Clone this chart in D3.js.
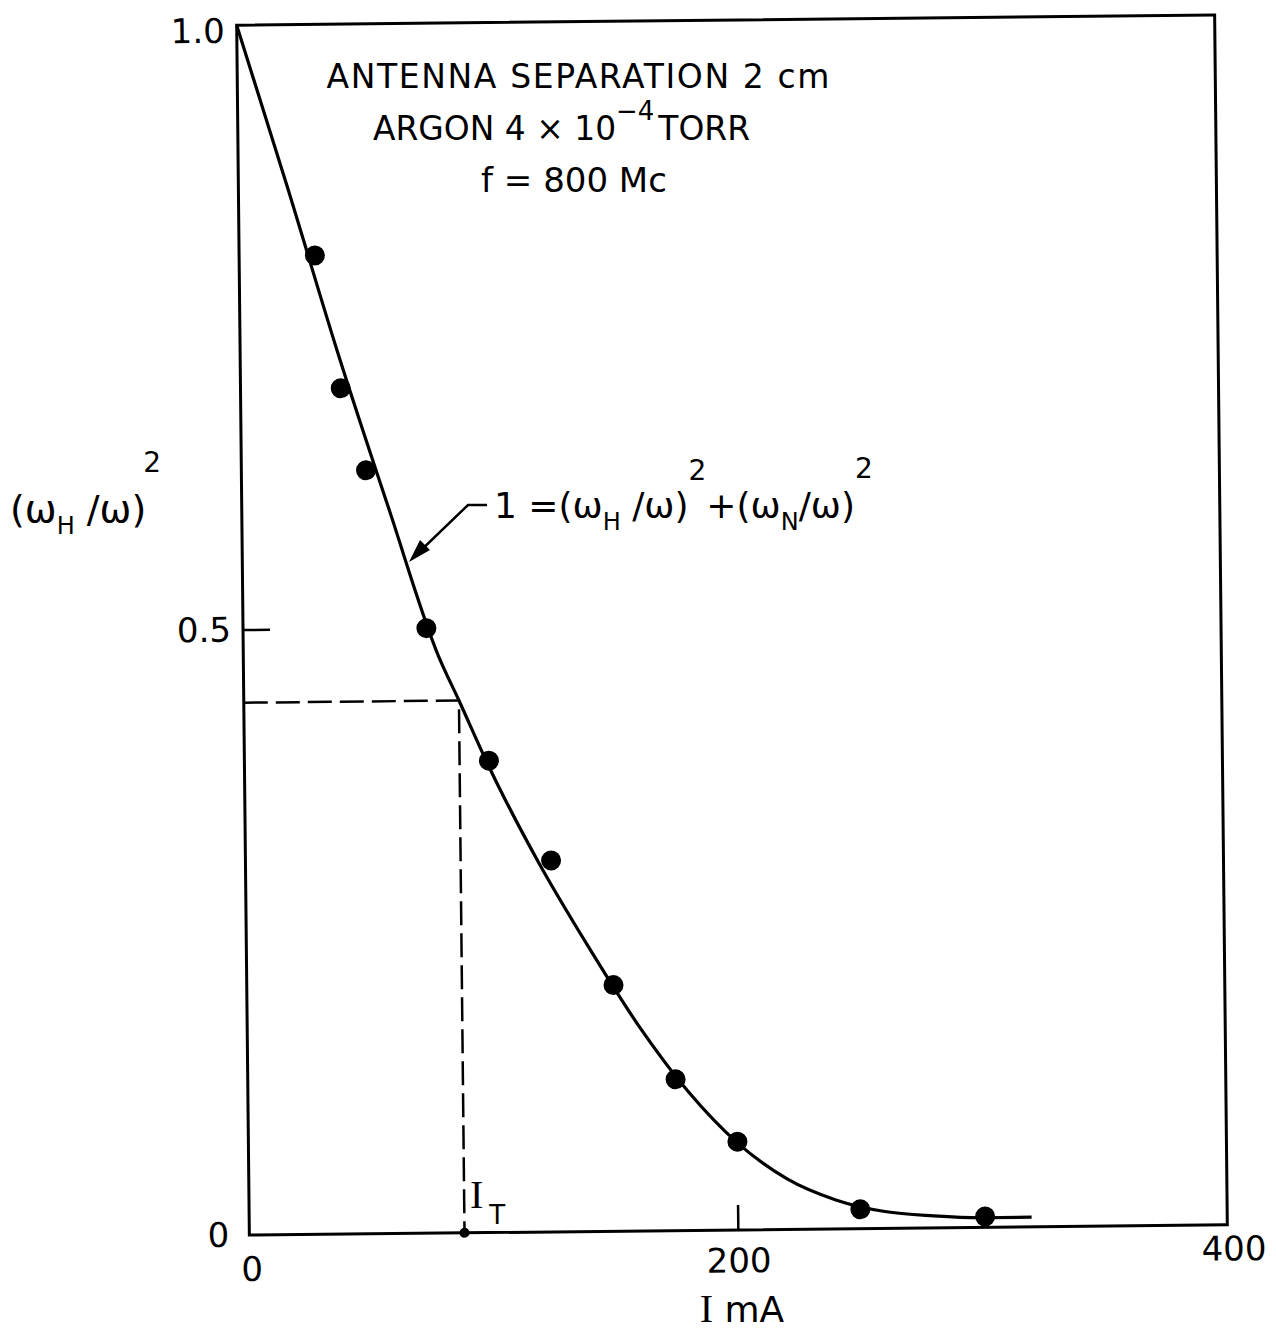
<!DOCTYPE html>
<html><head><meta charset="utf-8">
<script src="https://cdn.jsdelivr.net/npm/d3@7"></script>
<style>
body{margin:0;background:#fff;}
svg{display:block;}
text{font-family:"DejaVu Sans",sans-serif;fill:#000;}
</style></head>
<body>
<svg id="chart" width="1276" height="1333"></svg>
<script>
// ---- data ----
const xTicks = [0, 200, 400];
const xTickLabels = ["0", "200", "400"];
const yTicks = [0, 0.5, 1.0];
const yTickLabels = ["0", "0.5", "1.0"];
// measured points: current I (mA) and (wH/w)^2
const pointsI = [31, 41, 51, 75, 100, 125, 150, 175, 200, 250, 301];
const pointsV = [0.809, 0.699, 0.631, 0.5, 0.39, 0.307, 0.2035, 0.125, 0.073, 0.016, 0.009];
// fitted curve 1 = (wH/w)^2 + (wN/w)^2
const curveI = [0, 20, 40, 60, 80, 88, 100, 120, 140, 160, 180, 200, 220, 240, 260, 280, 300, 320];
const curveV = [1.0, 0.866, 0.728, 0.6, 0.476, 0.44, 0.385, 0.305, 0.235, 0.17, 0.115, 0.072, 0.042, 0.024, 0.014, 0.010, 0.008, 0.008];
// threshold current
const thresholdI = [88];
const thresholdV = [0.44];

// ---- layout ----
const svg = d3.select("#chart");
const L = 243, R = 1221, T = 20, B = 1230;
const cx = (L + R) / 2, cy = (T + B) / 2;
const x = d3.scaleLinear().domain([0, 400]).range([L, R]);
const y = d3.scaleLinear().domain([0, 1]).range([B, T]);

// whole figure slightly tilted like the scanned original
const g = svg.append("g").attr("transform", `rotate(-0.6 ${cx} ${cy})`);

// frame
g.append("rect").attr("x", L).attr("y", T).attr("width", R - L).attr("height", B - T)
  .attr("fill", "none").attr("stroke", "#000").attr("stroke-width", 3);

// axes (ticks inside)
const xAxis = d3.axisBottom(x).tickValues(xTicks).tickSize(0).tickPadding(22)
  .tickFormat((d, i) => xTickLabels[i]);
const gx = g.append("g").attr("transform", `translate(0,${B})`).call(xAxis);
gx.select(".domain").remove();
gx.selectAll("text").attr("font-size", 34).attr("font-family", "DejaVu Sans");
gx.selectAll(".tick").filter(d => d === 0).select("text").attr("dx", 2).attr("dy", "0.7em");
gx.selectAll(".tick").filter(d => d === 400).select("text").attr("dx", 6).attr("dy", "0.4em");
gx.selectAll(".tick").filter(d => d === 200).select("text").attr("dy", "0.6em");
g.append("line").attr("x1", x(200)).attr("x2", x(200)).attr("y1", B).attr("y2", B - 25)
  .attr("stroke", "#000").attr("stroke-width", 2.5);

const yAxis = d3.axisLeft(y).tickValues(yTicks).tickSize(0).tickPadding(12)
  .tickFormat((d, i) => yTickLabels[i]);
const gy = g.append("g").attr("transform", `translate(${L},0)`).call(yAxis);
gy.select(".domain").remove();
gy.selectAll("text").attr("font-size", 34).attr("font-family", "DejaVu Sans");
gy.selectAll(".tick").filter(d => d === 1).select("text").attr("dy", "0.5em");
gy.selectAll(".tick").filter(d => d === 0).select("text").attr("dx", -8);
g.append("line").attr("x1", L).attr("x2", L + 27).attr("y1", y(0.5)).attr("y2", y(0.5))
  .attr("stroke", "#000").attr("stroke-width", 2.5);

// threshold dashed lines
g.append("path")
  .attr("d", `M${x(0)},${y(thresholdV[0])}H${x(thresholdI[0])}V${y(0)}`)
  .attr("fill", "none").attr("stroke", "#000").attr("stroke-width", 2.5)
  .attr("stroke-dasharray", "24,8");
g.append("circle").attr("cx", x(thresholdI[0])).attr("cy", y(0)).attr("r", 5).attr("fill", "#000");

// curve
const curveData = curveI.map((d, i) => [d, curveV[i]]);
g.append("path").datum(curveData)
  .attr("d", d3.line().x(d => x(d[0])).y(d => y(d[1])).curve(d3.curveMonotoneX))
  .attr("fill", "none").attr("stroke", "#000").attr("stroke-width", 3.2);

// points
g.selectAll("circle.pt").data(pointsI.map((d, i) => [d, pointsV[i]])).enter()
  .append("circle").attr("class", "pt")
  .attr("cx", d => x(d[0])).attr("cy", d => y(d[1])).attr("r", 10).attr("fill", "#000");

// ---- texts ----
const ann = svg.append("g");
ann.append("text").attr("x", 578).attr("y", 88).attr("text-anchor", "middle")
  .attr("font-size", 33).attr("textLength", 503).attr("lengthAdjust", "spacing")
  .text("ANTENNA  SEPARATION  2 cm");
const t2 = ann.append("text").attr("x", 373).attr("y", 140).attr("font-size", 33)
  .attr("textLength", 377).attr("lengthAdjust", "spacingAndGlyphs");
t2.append("tspan").text("ARGON  4 × 10");
t2.append("tspan").attr("dy", -20).attr("font-size", 26).text("−4");
t2.append("tspan").attr("dy", 20).attr("dx", 4).text("TORR");
ann.append("text").attr("x", 574).attr("y", 192).attr("text-anchor", "middle")
  .attr("font-size", 34).text("f = 800 Mc");

// y-axis title
const yl = svg.append("text").attr("x", 10).attr("y", 522).attr("font-size", 38);
yl.append("tspan").text("(ω");
yl.append("tspan").attr("dy", 12).attr("font-size", 24).text("H");
yl.append("tspan").attr("dy", -12).text(" /ω)");
yl.append("tspan").attr("dy", -50).attr("dx", -3).attr("font-size", 28).text("2");

// x-axis title
const xl = svg.append("text").attr("x", 742).attr("y", 1322).attr("text-anchor", "middle").attr("font-size", 36);
xl.append("tspan").attr("font-family", "Liberation Serif").attr("font-size", 40).text("I");
xl.append("tspan").text("  mA");

// I_T label
const it = svg.append("text").attr("x", 470).attr("y", 1208).attr("font-size", 36);
it.append("tspan").attr("font-family", "Liberation Serif").attr("font-size", 40).text("I");
it.append("tspan").attr("dy", 16).attr("dx", 6).attr("font-size", 26).text("T");

// formula with leader arrow
const fm = svg.append("text").attr("x", 494).attr("y", 518).attr("font-size", 36);
fm.append("tspan").text("1 =(ω");
fm.append("tspan").attr("dy", 12).attr("font-size", 24).text("H");
fm.append("tspan").attr("dy", -12).text(" /ω)");
fm.append("tspan").attr("dy", -38).attr("font-size", 28).text("2");
fm.append("tspan").attr("dy", 38).text("+(ω");
fm.append("tspan").attr("dy", 12).attr("font-size", 24).text("N");
fm.append("tspan").attr("dy", -12).text("/ω)");
fm.append("tspan").attr("dy", -40).attr("font-size", 28).text("2");

svg.append("path").attr("d", "M487,505H468L414,557")
  .attr("fill", "none").attr("stroke", "#000").attr("stroke-width", 2.5);
svg.append("path").attr("d", "M409,562L420,540L430,550Z").attr("fill", "#000");
</script>
</body></html>
